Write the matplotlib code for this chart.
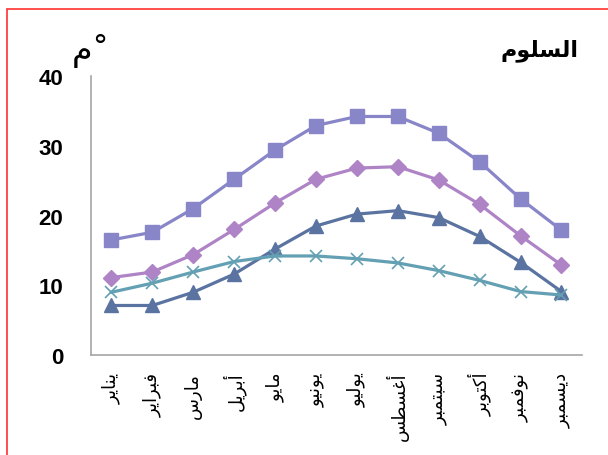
import matplotlib
matplotlib.use("Agg")
import matplotlib.pyplot as plt
from matplotlib.patches import Rectangle

months = ["يناير", "فبراير", "مارس", "أبريل", "مايو", "يونيو",
          "يوليو", "أغسطس", "سبتمبر", "أكتوبر", "نوفمبر", "ديسمبر"]
title = "السلوم"
unit = "م"

t_max = [16.5, 17.6, 21.0, 25.2, 29.4, 32.9, 34.2, 34.2, 31.8, 27.7, 22.4, 17.9]
t_mean = [11.1, 11.9, 14.4, 18.0, 21.8, 25.2, 26.8, 27.0, 25.1, 21.6, 17.1, 12.9]
t_min = [7.1, 7.1, 9.0, 11.6, 15.2, 18.5, 20.2, 20.7, 19.7, 17.0, 13.3, 9.1]
t_sea = [9.0, 10.3, 11.9, 13.4, 14.2, 14.2, 13.8, 13.2, 12.1, 10.7, 9.1, 8.6]

# arabic shaping by hand: (isolated, final, initial, medial), None = right-joining only
FORMS = {
    "ا": (0xFE8D, 0xFE8E, None, None), "أ": (0xFE83, 0xFE84, None, None),
    "ب": (0xFE8F, 0xFE90, 0xFE91, 0xFE92), "ت": (0xFE95, 0xFE96, 0xFE97, 0xFE98),
    "د": (0xFEA9, 0xFEAA, None, None), "ر": (0xFEAD, 0xFEAE, None, None),
    "س": (0xFEB1, 0xFEB2, 0xFEB3, 0xFEB4), "ط": (0xFEC1, 0xFEC2, 0xFEC3, 0xFEC4),
    "غ": (0xFECD, 0xFECE, 0xFECF, 0xFED0), "ف": (0xFED1, 0xFED2, 0xFED3, 0xFED4),
    "ك": (0xFED9, 0xFEDA, 0xFEDB, 0xFEDC), "ل": (0xFEDD, 0xFEDE, 0xFEDF, 0xFEE0),
    "م": (0xFEE1, 0xFEE2, 0xFEE3, 0xFEE4), "ن": (0xFEE5, 0xFEE6, 0xFEE7, 0xFEE8),
    "و": (0xFEED, 0xFEEE, None, None), "ي": (0xFEF1, 0xFEF2, 0xFEF3, 0xFEF4),
}


def shape(word):
    out = []
    for i, ch in enumerate(word):
        f = FORMS.get(ch)
        if f is None:
            out.append(ch)
            continue
        prev = word[i - 1] if i > 0 else None
        nxt = word[i + 1] if i < len(word) - 1 else None
        jp = prev in FORMS and FORMS[prev][2] is not None
        jn = nxt in FORMS and f[2] is not None
        if jp and jn:
            code = f[3]
        elif jp:
            code = f[1]
        elif jn:
            code = f[2]
        else:
            code = f[0]
        out.append(chr(code))
    return "".join(reversed(out))


fig = plt.figure(figsize=(6.08, 4.56), dpi=100)
ax = fig.add_axes([0.1497, 0.2193, 0.8073, 0.6118])

x = list(range(len(months)))
ax.plot(x, t_max, color="#8886C8", lw=2.3, marker="s", ms=10, mec="#8886C8")
ax.plot(x, t_mean, color="#AF84C6", lw=2.3, marker="D", ms=8, mec="#AF84C6")
ax.plot(x, t_min, color="#5A73A0", lw=2.3, marker="^", ms=10, mec="#5A73A0")
ax.plot(x, t_sea, color="#64A0B3", lw=2.3, marker="x", ms=9, mew=1.2)

ax.set_xlim(-0.5, 11.5)
ax.set_ylim(0, 40)
ax.set_yticks([0, 10, 20, 30, 40])
ax.set_yticklabels(["0", "10", "20", "30", "40"], fontsize=16, fontweight="bold",
                   family="Liberation Sans")
ax.set_xticks(x)
ax.set_xticklabels([shape(m) for m in months], rotation=90, fontsize=13,
                   family="DejaVu Sans", va="top")
ax.tick_params(axis="both", length=0)
ax.tick_params(axis="y", pad=20)
ax.tick_params(axis="x", pad=12)
for s in ["top", "right"]:
    ax.spines[s].set_visible(False)
for s in ["left", "bottom"]:
    ax.spines[s].set_color("#A6A6A6")
    ax.spines[s].set_linewidth(1.2)

fig.text(0.951, 0.89, shape(title), fontsize=16, fontweight="bold",
         family="DejaVu Sans", ha="right", va="center")
fig.text(0.118, 0.888, shape(unit), fontsize=24, family="DejaVu Sans",
         ha="left", va="center")
fig.text(0.152, 0.895, "°", fontsize=22, family="DejaVu Sans",
         ha="left", va="center")

fig.patches.append(Rectangle((7 / 608, -0.1), 1.2, (456 - 10) / 456 + 0.1,
                             transform=fig.transFigure, fill=False,
                             edgecolor="#FF3030", lw=1.2))

fig.savefig("out.png", dpi=100)
